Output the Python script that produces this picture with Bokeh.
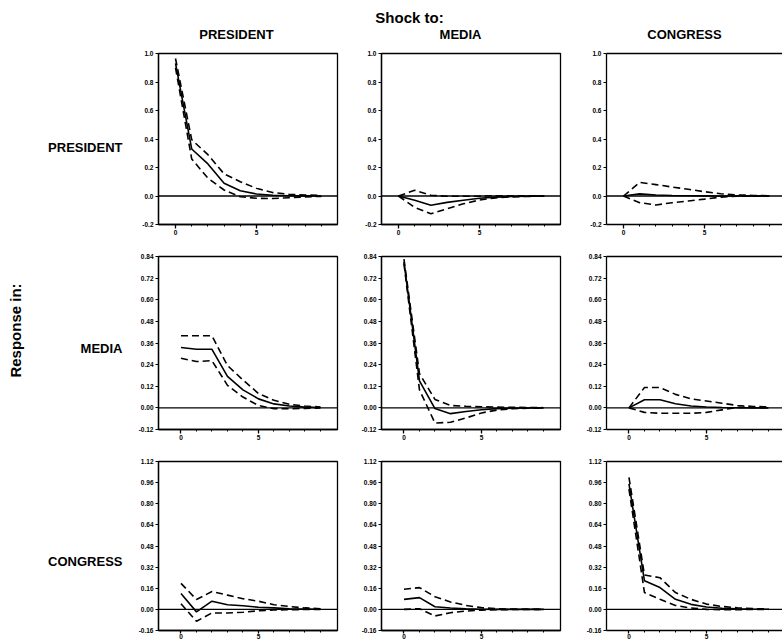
from math import pi
from bokeh.plotting import figure
from bokeh.layouts import column, row
from bokeh.models import Range1d, FixedTicker, PrintfTickFormatter, Span, Label, LinearAxis
from bokeh.embed import file_html
from bokeh.resources import INLINE

# ---------------- data ----------------
horizon = [0, 1, 2, 3, 4, 5, 6, 7, 8, 9]
shock_names = ["PRESIDENT", "MEDIA", "CONGRESS"]
response_names = ["PRESIDENT", "MEDIA", "CONGRESS"]

# Response in PRESIDENT
pp_mid = [0.93, 0.33, 0.225, 0.09, 0.037, 0.014, 0.005, 0.002, 0.001, 0.0]
pp_up = [0.965, 0.395, 0.29, 0.155, 0.10, 0.054, 0.024, 0.012, 0.007, 0.004]
pp_lo = [0.90, 0.26, 0.125, 0.042, -0.005, -0.016, -0.018, -0.012, -0.006, -0.003]

pm_mid = [0.0, -0.03, -0.065, -0.045, -0.03, -0.016, -0.008, -0.004, -0.002, -0.001]
pm_up = [0.0, 0.04, 0.005, -0.002, -0.002, -0.001, 0.002, 0.002, 0.001, 0.0]
pm_lo = [0.0, -0.08, -0.125, -0.09, -0.055, -0.028, -0.013, -0.006, -0.003, -0.001]

pc_mid = [0.0, 0.015, 0.007, 0.003, 0.002, 0.001, 0.0, 0.0, 0.0, 0.0]
pc_up = [0.0, 0.095, 0.08, 0.063, 0.047, 0.03, 0.016, 0.008, 0.004, 0.002]
pc_lo = [0.0, -0.047, -0.063, -0.047, -0.035, -0.022, -0.008, -0.002, -0.001, 0.0]

# Response in MEDIA
mp_mid = [0.335, 0.325, 0.325, 0.175, 0.10, 0.05, 0.022, 0.01, 0.004, 0.002]
mp_up = [0.40, 0.40, 0.40, 0.235, 0.155, 0.08, 0.042, 0.02, 0.01, 0.005]
mp_lo = [0.275, 0.257, 0.262, 0.125, 0.06, 0.013, -0.004, -0.005, -0.003, -0.001]

mm_mid = [0.81, 0.15, -0.004, -0.032, -0.02, -0.01, -0.004, -0.002, -0.001, 0.0]
mm_up = [0.825, 0.19, 0.047, 0.013, 0.009, 0.006, 0.004, 0.003, 0.002, 0.001]
mm_lo = [0.80, 0.10, -0.084, -0.08, -0.056, -0.028, -0.012, -0.005, -0.002, -0.001]

mc_mid = [0.0, 0.045, 0.045, 0.023, 0.01, 0.005, 0.002, 0.001, 0.0, 0.0]
mc_up = [0.0, 0.113, 0.113, 0.075, 0.05, 0.038, 0.026, 0.013, 0.008, 0.005]
mc_lo = [0.0, -0.025, -0.03, -0.03, -0.03, -0.025, -0.011, 0.003, 0.002, 0.001]

# Response in CONGRESS
cp_mid = [0.121, -0.019, 0.062, 0.035, 0.027, 0.016, 0.011, 0.005, 0.003, 0.001]
cp_up = [0.197, 0.075, 0.135, 0.108, 0.081, 0.062, 0.035, 0.022, 0.011, 0.005]
cp_lo = [0.043, -0.09, -0.027, -0.027, -0.022, -0.011, -0.005, -0.003, -0.001, 0.0]

cm_mid = [0.076, 0.089, 0.02, 0.01, 0.004, 0.001, 0.0, 0.0, 0.0, 0.0]
cm_up = [0.152, 0.165, 0.096, 0.056, 0.03, 0.013, 0.005, 0.002, 0.001, 0.0]
cm_lo = [0.0, 0.005, -0.05, -0.025, -0.013, -0.006, -0.003, -0.001, 0.0, 0.0]

cc_mid = [0.95, 0.216, 0.165, 0.076, 0.038, 0.018, 0.008, 0.004, 0.002, 0.001]
cc_up = [1.0, 0.26, 0.24, 0.127, 0.076, 0.04, 0.022, 0.012, 0.006, 0.003]
cc_lo = [0.91, 0.127, 0.076, 0.03, 0.01, 0.0, -0.003, -0.002, -0.001, 0.0]

# tick values
y_ticks_row1 = [-0.2, 0.0, 0.2, 0.4, 0.6, 0.8, 1.0]
y_ticks_row2 = [-0.12, 0.0, 0.12, 0.24, 0.36, 0.48, 0.60, 0.72, 0.84]
y_ticks_row3 = [-0.16, 0.0, 0.16, 0.32, 0.48, 0.64, 0.80, 0.96, 1.12]
x_major_ticks = [0, 5]
x_minor_ticks = [1, 2, 3, 4, 6, 7, 8, 9]

series = [
    [(pp_mid, pp_up, pp_lo), (pm_mid, pm_up, pm_lo), (pc_mid, pc_up, pc_lo)],
    [(mp_mid, mp_up, mp_lo), (mm_mid, mm_up, mm_lo), (mc_mid, mc_up, mc_lo)],
    [(cp_mid, cp_up, cp_lo), (cm_mid, cm_up, cm_lo), (cc_mid, cc_up, cc_lo)],
]
y_ticks = [y_ticks_row1, y_ticks_row2, y_ticks_row3]
y_fmt = ["%.1f", "%.2f", "%.2f"]

# ---------------- layout ----------------
FONT = "Liberation Sans"
INK = "black"
TOP_H = 45
col_w = [223, 225, 202]
col_frame = [179, 179, 176]
L_B = 26
row_h = [203, 208, 185]
row_T = [8, 8, 5]
row_B = [24, 27, 11]
x_rng = [(-1.05, 10.0), (-1.45, 10.1), (-1.45, 10.1)]


def make_panel(r, c):
    mid, up, lo = series[r][c]
    xs, xe = x_rng[r]
    xe = xs + (xe - xs) * col_frame[c] / 179.0
    p = figure(width=col_w[c], height=row_h[r],
               x_range=Range1d(xs, xe),
               y_range=Range1d(y_ticks[r][0], y_ticks[r][-1]),
               output_backend="svg", toolbar_location=None,
               min_border_left=L_B, min_border_right=col_w[c] - L_B - col_frame[c],
               min_border_top=row_T[r], min_border_bottom=row_B[r])
    p.grid.visible = False
    p.background_fill_color = "white"
    p.border_fill_color = "white"
    if c < 2:
        p.outline_line_color = INK
        p.outline_line_width = 1.3
        p.outline_line_alpha = 1.0
    else:
        p.outline_line_color = None
        top = LinearAxis(ticker=FixedTicker(ticks=[], minor_ticks=[]),
                         axis_line_color=INK, axis_line_width=1.3,
                         major_tick_out=0, minor_tick_out=0, major_label_standoff=0)
        p.add_layout(top, "above")

    xa = p.below[0]
    xa.ticker = FixedTicker(ticks=x_major_ticks, minor_ticks=x_minor_ticks)
    xa.axis_line_width = 1.3
    xa.axis_line_color = INK
    xa.major_tick_out = 4 if r < 2 else 3
    xa.major_tick_in = 0
    xa.minor_tick_out = 2
    xa.minor_tick_in = 0
    xa.major_tick_line_width = 1.3
    xa.minor_tick_line_width = 1
    xa.major_tick_line_color = INK
    xa.minor_tick_line_color = INK
    xa.major_label_standoff = 1 if r < 2 else 0
    xa.major_label_text_font = FONT
    xa.major_label_text_font_style = "bold"
    xa.major_label_text_font_size = "6.5px"
    xa.major_label_text_color = INK

    ya = p.left[0]
    ya.ticker = FixedTicker(ticks=y_ticks[r], minor_ticks=[])
    ya.formatter = PrintfTickFormatter(format=y_fmt[r])
    ya.axis_line_width = 1.3
    ya.axis_line_color = INK
    ya.major_tick_out = 3
    ya.major_tick_in = 0
    ya.major_tick_line_width = 1
    ya.major_tick_line_color = INK
    ya.major_label_standoff = 2
    ya.major_label_text_font = FONT
    ya.major_label_text_font_style = "bold"
    ya.major_label_text_font_size = "6.5px"
    ya.major_label_text_color = INK

    p.add_layout(Span(location=0, dimension="width", line_color=INK, line_width=1.3))
    p.line(horizon, up, line_color=INK, line_width=1.6, line_dash="7 4")
    p.line(horizon, lo, line_color=INK, line_width=1.6, line_dash="7 4")
    p.line(horizon, mid, line_color=INK, line_width=1.6)
    return p


panels = [[make_panel(r, c) for c in range(3)] for r in range(3)]

TOTAL_W = sum(col_w) + 132

# header figure
header = figure(width=TOTAL_W, height=TOP_H, x_range=Range1d(0, TOTAL_W), y_range=Range1d(TOP_H, 0),
                output_backend="svg", toolbar_location=None, min_border=0)
header.axis.visible = False
header.grid.visible = False
header.outline_line_color = None
header.add_layout(Label(x=409, y=17, text="Shock to:", text_font=FONT, text_font_style="bold",
                        text_font_size="15px", text_align="center", text_baseline="middle",
                        text_color=INK))
head_x = [236, 460, 684]
for name, hx in zip(shock_names, head_x):
    header.add_layout(Label(x=hx, y=34, text=name, text_font=FONT, text_font_style="bold",
                            text_font_size="13px", text_align="center", text_baseline="middle",
                            text_color=INK))

# left label figure
LEFT_W = 132
LEFT_H = sum(row_h)
left = figure(width=LEFT_W, height=LEFT_H, x_range=Range1d(0, LEFT_W), y_range=Range1d(LEFT_H, 0),
              output_backend="svg", toolbar_location=None, min_border=0)
left.axis.visible = False
left.grid.visible = False
left.outline_line_color = None
left.add_layout(Label(x=15, y=285, text="Response in:", text_font=FONT, text_font_style="bold",
                      text_font_size="15px", text_align="center", text_baseline="middle",
                      angle=pi / 2, text_color=INK))
row_y = [102, 303, 516]
for name, ry in zip(response_names, row_y):
    left.add_layout(Label(x=122, y=ry, text=name, text_font=FONT, text_font_style="bold",
                          text_font_size="13px", text_align="right", text_baseline="middle",
                          text_color=INK))

grid = column(*[row(*panels[r], spacing=0) for r in range(3)], spacing=0)
layout = column(header, row(left, grid, spacing=0), spacing=0)

open("out.html", "w").write(file_html(layout, INLINE))
